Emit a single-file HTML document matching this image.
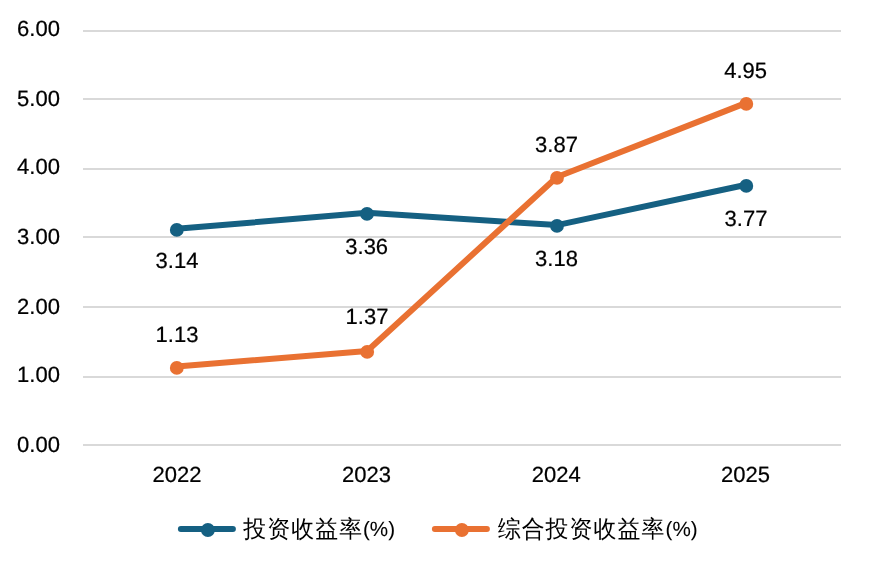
<!DOCTYPE html>
<html lang="zh-CN">
<head>
<meta charset="utf-8">
<title>投资收益率</title>
<style>
html,body{margin:0;padding:0;background:#fff;}
body{width:870px;height:568px;overflow:hidden;}
svg{display:block;}
.lat{font-family:"Liberation Sans",sans-serif;font-size:22px;text-rendering:geometricPrecision;fill:#000;stroke:#000;stroke-width:0.22px;}
.cjk{font-family:"Liberation Sans","WenQuanYi Zen Hei","Noto Sans CJK SC",sans-serif;font-size:24px;letter-spacing:1.13px;fill:#000;}
.lat2{font-family:"Liberation Sans",sans-serif;font-size:20.6px;text-rendering:geometricPrecision;fill:#000;stroke:#000;stroke-width:0.08px;}
</style>
</head>
<body>
<svg width="870" height="568" viewBox="0 0 870 568">
<rect x="0" y="0" width="870" height="568" fill="#ffffff"/>
<g fill="#d9d9d9" shape-rendering="crispEdges">
<rect x="83" y="30" width="758" height="2"/>
<rect x="83" y="98" width="758" height="2"/>
<rect x="83" y="168" width="758" height="2"/>
<rect x="83" y="236" width="758" height="2"/>
<rect x="83" y="306" width="758" height="2"/>
<rect x="83" y="376" width="758" height="2"/>
<rect x="83" y="444" width="758" height="2"/>
</g>
<g class="lat" text-anchor="start">
<text x="17.05" y="35.55">6.00</text>
<text x="17.05" y="105.55">5.00</text>
<text x="17.05" y="173.55">4.00</text>
<text x="17.05" y="243.55">3.00</text>
<text x="17.05" y="313.55">2.00</text>
<text x="17.05" y="381.55">1.00</text>
<text x="17.05" y="451.55">0.00</text>
</g>
<g class="lat" text-anchor="middle">
<text x="177" y="481.85">2022</text>
<text x="366.6" y="481.85">2023</text>
<text x="556.2" y="481.85">2024</text>
<text x="745.6" y="481.85">2025</text>
</g>
<!-- series 1 -->
<polyline points="176.8,228.8 367.2,212.8 557,225.1 746.3,184.8" fill="none" stroke="#156082" stroke-width="6" stroke-linecap="round" stroke-linejoin="round"/>
<g fill="#156082">
<circle cx="176.8" cy="229.9" r="6.9"/>
<circle cx="367.0" cy="213.9" r="6.9"/>
<circle cx="557.0" cy="225.9" r="6.9"/>
<circle cx="746.3" cy="185.9" r="6.9"/>
</g>
<!-- series 2 -->
<polyline points="176.8,366.6 367.2,351.0 557,177.0 746.3,102.9" fill="none" stroke="#E97132" stroke-width="6" stroke-linecap="round" stroke-linejoin="round"/>
<g fill="#E97132">
<circle cx="176.8" cy="367.9" r="6.9"/>
<circle cx="367.2" cy="351.9" r="6.9"/>
<circle cx="557.0" cy="177.9" r="6.9"/>
<circle cx="746.3" cy="103.9" r="6.9"/>
</g>
<g class="lat" text-anchor="middle">
<text x="177" y="268">3.14</text>
<text x="366.7" y="253.5">3.36</text>
<text x="556.5" y="266">3.18</text>
<text x="746" y="225.9">3.77</text>
<text x="177" y="342">1.13</text>
<text x="367" y="324">1.37</text>
<text x="556.5" y="152">3.87</text>
<text x="745.65" y="77.9">4.95</text>
</g>
<!-- legend -->
<line x1="180.9" y1="528.9" x2="232.9" y2="528.9" stroke="#156082" stroke-width="6" stroke-linecap="round"/>
<circle cx="207.9" cy="530" r="6.95" fill="#156082"/>
<text class="cjk" transform="scale(0.955,1)" x="254.7" y="536.8">投资收益率</text><text class="lat2" x="363.00" y="535.6">(%)</text>
<line x1="434.9" y1="528.9" x2="486.9" y2="528.9" stroke="#E97132" stroke-width="6" stroke-linecap="round"/>
<circle cx="461.9" cy="530" r="6.95" fill="#E97132"/>
<text class="cjk" transform="scale(0.955,1)" x="521.1" y="536.7">综合投资收益率</text><text class="lat2" x="665.60" y="535.5">(%)</text>
</svg>
</body>
</html>
